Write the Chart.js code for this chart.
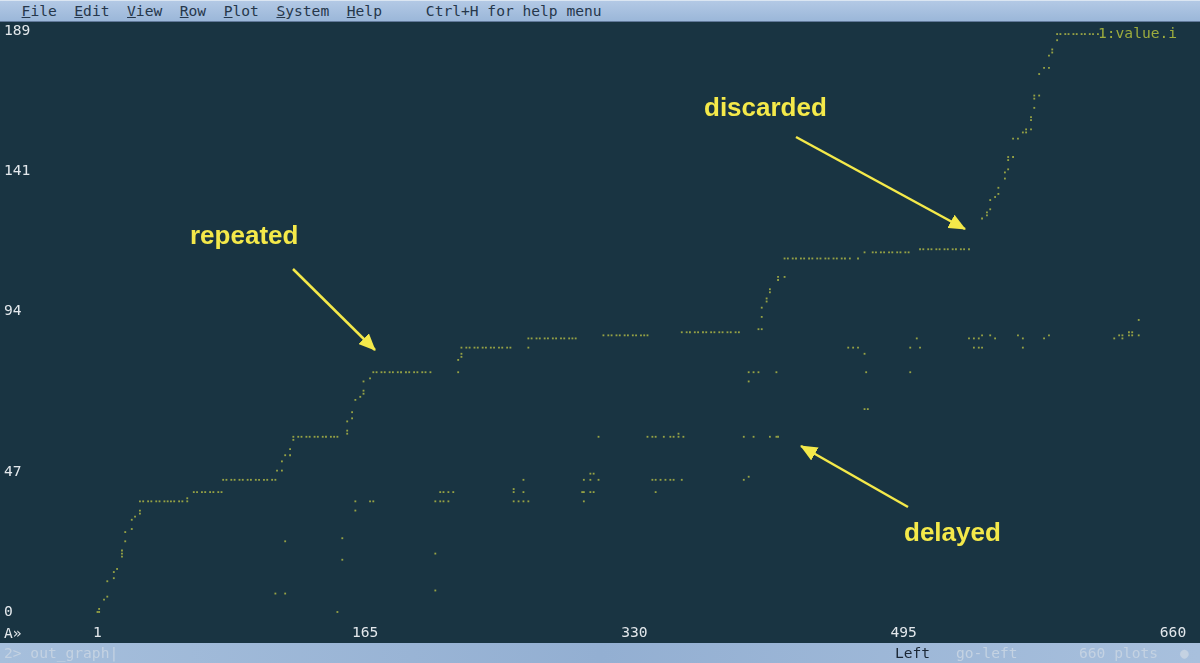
<!DOCTYPE html>
<html>
<head>
<meta charset="utf-8">
<script src="https://cdn.jsdelivr.net/npm/chart.js@4.4.1/dist/chart.umd.min.js"></script>
<style>
  html, body { margin: 0; padding: 0; background: #193442; width: 1200px; height: 663px; overflow: hidden; }
  #wrap { position: relative; width: 1200px; height: 663px; }
  #plot { position: absolute; left: 0; top: 0; }
  #menu { position: absolute; left: 0; top: 0; width: 1200px; height: 22px; box-sizing: border-box;
          background: linear-gradient(#b3c9e5, #9bb7d9); border-top: 1px solid #dbe6f2; border-bottom: 1px solid #61799a; }
  #menu pre { margin: 0; padding-left: 4px; font: 14.6px/20px 'DejaVu Sans Mono', monospace; color: #26374b; }
  #status { position: absolute; left: 0; top: 643px; width: 1200px; height: 20px;
            background: linear-gradient(90deg, #a6bfdc, #93afd2 50%, #a8c0dd); }
  .st { position: absolute; top: 0; font: 14.6px/20px 'DejaVu Sans Mono', monospace; white-space: pre; color: #c4d2e2; }
  .mono { position: absolute; font: 14.6px/20px 'DejaVu Sans Mono', monospace; white-space: pre; color: #e3e8ec; }
  .anno { position: absolute; font: bold 26px/26px 'Liberation Sans', Arial, sans-serif; color: #f4e94a; white-space: nowrap; }
  svg { position: absolute; left: 0; top: 0; }
</style>
</head>
<body>
<div id="wrap">
  <canvas id="plot" width="1200" height="663"></canvas>

  <div id="menu"><pre>  <u>F</u>ile  <u>E</u>dit  <u>V</u>iew  <u>R</u>ow  <u>P</u>lot  <u>S</u>ystem  <u>H</u>elp     Ctrl+H for help menu</pre></div>

  <div class="mono" style="left:1098px;top:23px;color:#9dac3e;">1:value.i</div>
  <div class="mono" style="left:4px;top:623px;">A»</div>

  <div class="anno" style="left:190px;top:222px;">repeated</div>
  <div class="anno" style="left:704px;top:94px;">discarded</div>
  <div class="anno" style="left:904px;top:519px;">delayed</div>

  <svg width="1200" height="663">
    <defs>
      <marker id="ah" markerUnits="userSpaceOnUse" markerWidth="17" markerHeight="15" refX="16" refY="7.5" orient="auto">
        <path d="M0,0 L17,7.5 L0,15 z" fill="#f4e94a"/>
      </marker>
    </defs>
    <g stroke="#f4e94a" stroke-width="2.5" fill="none">
      <line x1="293" y1="269" x2="375" y2="350" marker-end="url(#ah)"/>
      <line x1="796" y1="137" x2="965" y2="229" marker-end="url(#ah)"/>
      <line x1="908" y1="507" x2="801" y2="446" marker-end="url(#ah)"/>
    </g>
  </svg>

  <div id="status">
    <div class="st" style="left:4px;">2&gt; out_graph|</div>
    <div class="st" style="left:895px;color:#1b2735;">Left</div>
    <div class="st" style="left:956px;">go-left</div>
    <div class="st" style="left:1079px;">660 plots</div>
    <div class="st" style="left:1180px;">●</div>
  </div>
</div>

<script>
  // samples in arrival order: [plot index, value]
  const valuePoints = [
    [1,0],[2,0],[2,1],[5,4],[7,5],[7,10],[11,11],[11,13],[13,14],[16,18],[16,19],[16,20],
    [18,23],[18,26],[22,27],[22,30],[24,31],[27,32],[27,33],
    [27,36],[29,36],[32,36],[34,36],[37,36],[39,36],[42,36],[44,36],[46,36],[48,36],[51,36],[53,36],[56,36],
    [56,37],
    [60,39],[62,39],[65,39],[67,39],[70,39],[72,39],[75,39],[77,39],
    [78,43],[80,43],[83,43],[85,43],[88,43],[90,43],[93,43],[95,43],[98,43],[100,43],[103,43],[105,43],[108,43],[110,43],
    [111,46],[114,46],[114,49],[116,51],[119,51],[119,53],[121,56],
    [121,57],[124,57],[126,57],[129,57],[131,57],[134,57],[136,57],[139,57],[141,57],[144,57],[146,57],[148,57],
    [154,58],[154,59],[154,62],[157,63],[157,65],[159,69],[162,70],[164,71],[164,72],[164,75],[168,76],
    [170,78],[172,78],[175,78],[177,78],[180,78],[182,78],[185,78],[187,78],[190,78],[192,78],[195,78],[197,78],[200,78],[202,78],[205,78],
    [222,78],[222,82],[224,83],[224,84],
    [224,86],[227,86],[229,86],[232,86],[234,86],[237,86],[239,86],[242,86],[244,86],[247,86],[249,86],[252,86],[254,86],
    [265,86],
    [265,89],[267,89],[270,89],[272,89],[275,89],[277,89],[280,89],[282,89],[285,89],[287,89],[290,89],[292,89],[294,89],
    [311,90],[314,90],[316,90],[319,90],[321,90],[324,90],[326,90],[329,90],[331,90],[334,90],[336,90],[338,90],
    [359,91],[362,91],[364,91],[367,91],[369,91],[372,91],[374,91],[377,91],[379,91],[382,91],[384,91],[387,91],[389,91],[392,91],[394,91],
    [406,92],[408,92],[408,96],[408,99],[411,101],[411,102],[413,104],[413,105],[418,108],[418,109],[422,109],
    [422,115],[424,115],[427,115],[429,115],[432,115],[434,115],[437,115],[439,115],[442,115],[444,115],[447,115],[449,115],
    [452,115],[454,115],[457,115],[459,115],[462,115],[467,115],
    [471,117],
    [476,117],[478,117],[481,117],[483,117],[486,117],[488,117],[491,117],[493,117],[496,117],[498,117],
    [505,118],[507,118],[510,118],[512,118],[515,118],[517,118],[520,118],[522,118],[525,118],[527,118],[530,118],[532,118],[535,118],
    [543,128],[546,129],[546,130],[548,131],[548,134],[551,135],[553,136],[553,138],[557,141],[557,143],[559,144],[559,147],
    [559,148],[562,148],[562,154],[565,154],[568,156],[570,156],[570,157],[573,157],[573,160],[573,161],[575,164],[575,167],
    [575,168],[578,168],[578,175],[581,177],[584,177],[584,181],[586,182],[586,183],[589,186],[589,188],
    [591,188],[594,188],[596,188],[599,188],[601,188],[604,188],[606,188],[609,188],[611,188],[614,188]
  ];

  // out-of-order (delayed) samples
  const latePoints = [
    [116,23],[110,6],[116,6],[151,24],[151,17],[148,0],[159,36],[159,33],[168,36],[170,36],
    [208,36],[211,36],[213,36],[216,36],[211,39],[213,39],[216,39],[219,39],[208,19],[208,7],
    [256,40],[256,39],[262,43],[262,39],[256,36],[259,36],[262,36],[265,36],
    [303,45],[305,45],[299,43],[303,43],[308,43],[298,39],[299,39],[303,39],[305,39],[299,36],
    [308,57],
    [341,43],[343,43],[346,43],[349,43],[352,43],[354,43],[359,43],[343,39],
    [338,57],[341,57],[343,57],[348,57],[352,57],[354,57],[357,58],[357,57],[360,57],
    [397,43],[400,44],
    [397,57],[403,57],[413,57],[417,57],[418,57],
    [400,78],[403,78],[406,78],[417,78],[400,75],
    [461,86],[464,86],[467,86],[471,84],[472,78],[471,66],[473,66],
    [503,89],[499,86],[505,86],[499,78],
    [535,89],[538,89],[541,89],[543,90],[548,90],[551,89],[538,86],[541,86],[543,86],
    [565,90],[568,89],[568,86],[581,89],[584,90],
    [624,89],[627,90],[629,90],[629,89],[633,91],[635,91],[633,90],[635,90],[639,90],[639,95]
  ];

  const xTicks = [1, 165, 330, 495, 660];
  const yTickLabels = ['0', '47', '94', '141', '189'];
  const Y_MAX = 189;

  // the terminal puts axis labels on text rows (29 rows between 0 and max)
  const LABEL_ROWS = [29, 22, 14, 7, 0];

  const DOT = '#96a245';
  const TXT = '#e3e8ec';
  const MONO = { family: 'DejaVu Sans Mono', size: 14.6 };

  const pts = valuePoints.concat(latePoints).map(p => ({ x: p[0], y: p[1] }));

  new Chart(document.getElementById('plot'), {
    type: 'scatter',
    data: {
      datasets: [{
        label: '1:value.i',
        data: pts,
        pointStyle: 'rect',
        pointRadius: 1.3,
        pointHoverRadius: 1.3,
        backgroundColor: DOT,
        borderWidth: 0,
        clip: false
      }]
    },
    options: {
      responsive: false,
      animation: false,
      devicePixelRatio: 1,
      layout: { padding: { left: 4, right: 27, top: 31, bottom: 0 } },
      plugins: { legend: { display: false }, tooltip: { enabled: false } },
      scales: {
        x: {
          type: 'linear',
          min: 1,
          max: 660,
          grid: { display: false, drawTicks: false },
          border: { display: false },
          afterBuildTicks: s => { s.ticks = xTicks.map(v => ({ value: v })); },
          afterFit: s => { s.height = 51; },
          ticks: { color: TXT, font: MONO, padding: 12, maxRotation: 0, autoSkip: false }
        },
        y: {
          type: 'linear',
          min: 0,
          max: Y_MAX,
          grid: { display: false, drawTicks: false },
          border: { display: false },
          afterBuildTicks: s => {
            s.ticks = LABEL_ROWS.map(r => ({ value: Y_MAX * (29 - r) / 29 }));
          },
          afterFit: s => { s.width = 93.5; },
          ticks: {
            color: TXT,
            font: MONO,
            padding: 0,
            crossAlign: 'far',
            autoSkip: false,
            callback: (v, i) => yTickLabels[i]
          }
        }
      }
    }
  });
</script>
</body>
</html>
